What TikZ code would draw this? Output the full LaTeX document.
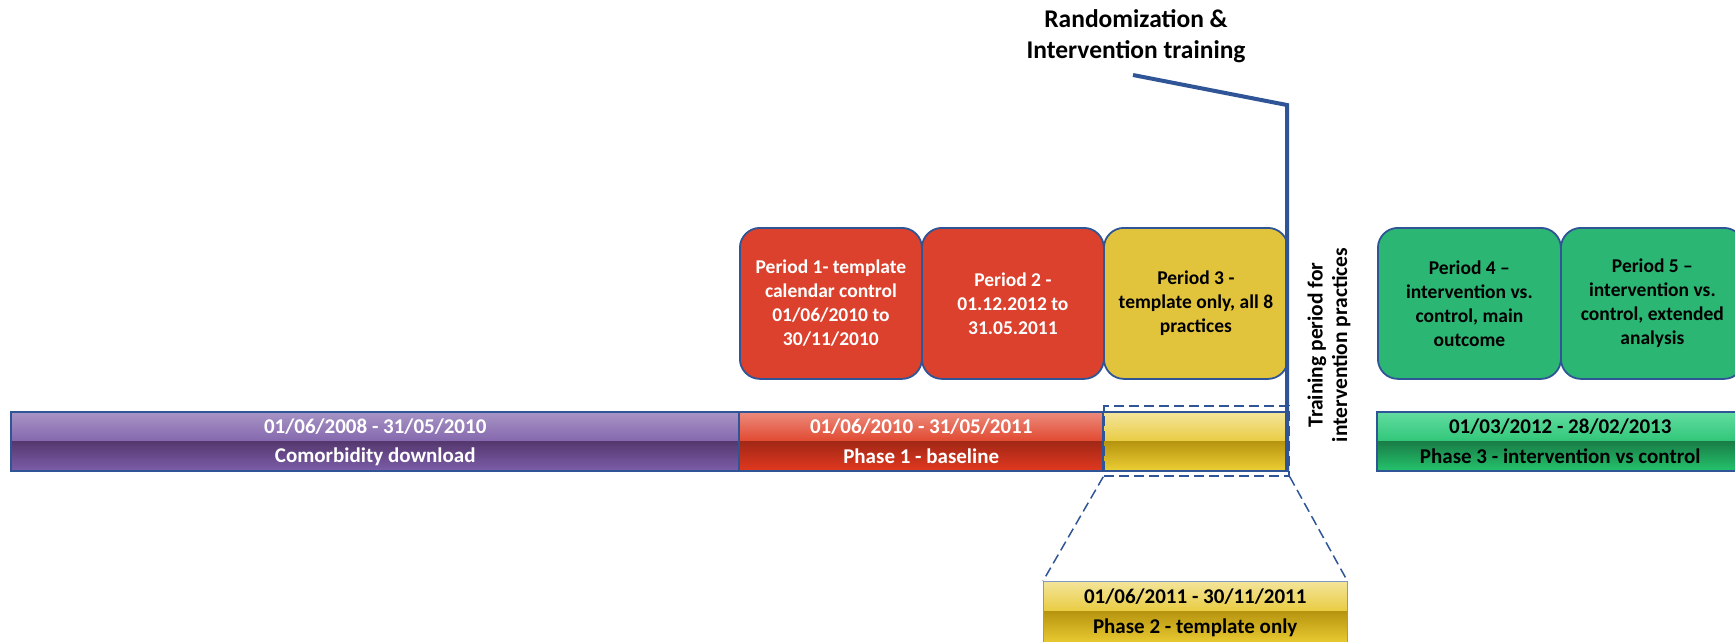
\documentclass[tikz,border=0pt]{standalone}
\usepackage{fontspec}
\setmainfont{Carlito}
\usetikzlibrary{fit}
\definecolor{edge}{HTML}{2F5597}
\definecolor{boxred}{HTML}{DC412D}
\definecolor{boxyellow}{HTML}{E2C43C}
\definecolor{boxgreen}{HTML}{2BB673}
% bar shading colours: a = top of upper half, b = bottom of upper half,
% c = top of lower half, d = bottom of lower half
\definecolor{purA}{RGB}{167,148,196}
\definecolor{purB}{RGB}{132,103,174}
\definecolor{purC}{RGB}{86,56,111}
\definecolor{purD}{RGB}{124,94,170}
\definecolor{redA}{RGB}{236,138,124}
\definecolor{redB}{RGB}{225,72,47}
\definecolor{redC}{RGB}{162,40,22}
\definecolor{redD}{RGB}{226,56,31}
\definecolor{yelA}{RGB}{243,228,154}
\definecolor{yelB}{RGB}{233,204,66}
\definecolor{yelC}{RGB}{183,148,15}
\definecolor{yelD}{RGB}{237,207,53}
\definecolor{grnA}{RGB}{98,220,160}
\definecolor{grnB}{RGB}{48,198,120}
\definecolor{grnC}{RGB}{26,126,71}
\definecolor{grnD}{RGB}{36,196,109}
\begin{document}
\begin{tikzpicture}[x=1pt,y=-1pt,
  period/.style={draw=edge, line width=1.8pt, rounded corners=20pt, anchor=north west,
    minimum width=182pt, minimum height=151pt, inner sep=0pt, align=center,
    font=\bfseries\fontsize{19.5}{24}\selectfont},
  half/.style={rectangle, inner sep=0pt, anchor=north west, minimum height=29.5pt,
    font=\bfseries\fontsize{21}{24}\selectfont},
  barframe/.style={draw=edge, line width=2pt},
  marker/.style={draw=edge, line width=4pt, line join=miter},
  zoomline/.style={draw=edge, line width=1.5pt, dash pattern=on 10pt off 5pt}]
\useasboundingbox (0,0) rectangle (1735,641);

% ---- period boxes ----
\node[period, fill=boxred, text=white] (p1) at (739,227)
  {Period 1- template\\calendar control\\01/06/2010 to\\30/11/2010};
\node[period, fill=boxred, text=white] (p2) at (921,227)
  {Period 2 -\\01.12.2012 to\\31.05.2011};
\node[period, fill=boxyellow, minimum width=184pt] (p3) at (1103,227)
  {Period 3 -\\template only, all 8\\practices};
\node[period, fill=boxgreen, minimum width=183pt] (p4) at (1377,227)
  {Period 4 --\\intervention vs.\\control, main\\outcome};
\node[period, fill=boxgreen, minimum width=183pt] (p5) at (1560,227)
  {Period 5 --\\intervention vs.\\control, extended\\analysis};

% ---- timeline bars (upper: dates, lower: phase) ----
\node[half, minimum width=728pt, top color=purA, bottom color=purB, text=white] (pu1) at (11,412)
  {01/06/2008 - 31/05/2010};
\node[half, minimum width=728pt, top color=purC, bottom color=purD, text=white] (pu2) at (11,441.5)
  {Comorbidity download};
\draw[barframe] (pu1.north west) rectangle (pu2.south east);

\node[half, minimum width=364pt, top color=redA, bottom color=redB, text=white] (rd1) at (739,412)
  {01/06/2010 - 31/05/2011};
\node[half, minimum width=364pt, top color=redC, bottom color=redD, text=white] (rd2) at (739,441.5)
  {Phase 1 - baseline};
\draw[barframe] (rd1.north west) rectangle (rd2.south east);

\node[half, minimum width=184pt, top color=yelA, bottom color=yelB] (yl1) at (1103,412) {};
\node[half, minimum width=184pt, top color=yelC, bottom color=yelD] (yl2) at (1103,441.5) {};
\draw[barframe] (yl1.north west) rectangle (yl2.south east);

\node[half, minimum width=366pt, top color=grnA, bottom color=grnB] (gr1) at (1377,412)
  {01/03/2012 - 28/02/2013};
\node[half, minimum width=366pt, top color=grnC, bottom color=grnD] (gr2) at (1377,441.5)
  {Phase 3 - intervention vs control};
\draw[barframe] (gr1.north west) rectangle (gr2.south east);

% ---- enlarged phase 2 bar ----
\node[half, minimum width=304pt, minimum height=30pt, top color=yelA, bottom color=yelB] (ph1) at (1043,581)
  {01/06/2011 - 30/11/2011};
\node[half, minimum width=304pt, minimum height=34pt, top color=yelC, bottom color=yelD] (ph2) at (1043,611)
  {Phase 2 - template only};
\draw[draw=edge!60, line width=0.8pt] (ph1.north west) rectangle (ph2.south east);

% ---- dashed zoom frame around the phase 2 segment ----
\node[zoomline, fit={(1104,406) (1289,476)}, inner sep=0pt] (frame) {};
\draw[zoomline] (frame.south west) -- (ph1.north west);
\draw[zoomline] (frame.south east) -- (ph1.north east);

% ---- randomization marker ----
\node[font=\bfseries\fontsize{25.5}{31}\selectfont, align=center] (title) at (1136,36)
  {Randomization \&\\Intervention training};
\coordinate (tip) at (1133,75);
\coordinate (knee) at (1287,105);
\draw[marker] (tip) -- (knee) -- (knee |- yl2.south);

% ---- training period label ----
\node[rotate=90, align=center, font=\bfseries\fontsize{21.5}{24.5}\selectfont] (train) at (1329,345)
  {Training period for\\intervention practices};
\end{tikzpicture}
\end{document}
